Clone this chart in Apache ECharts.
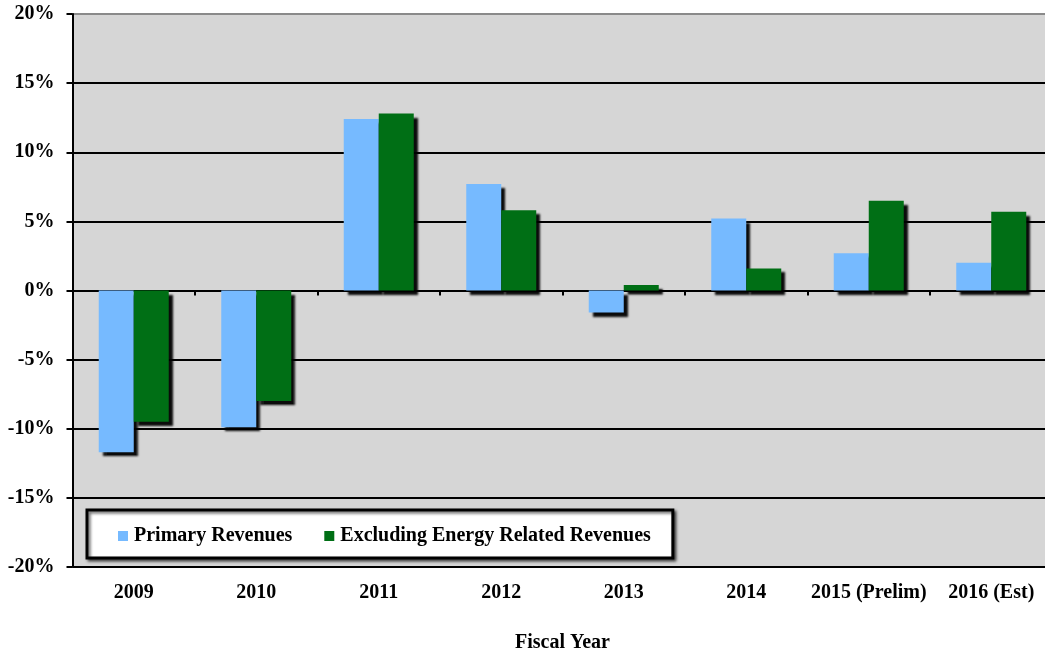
<!DOCTYPE html>
<html>
<head>
<meta charset="utf-8">
<script src="https://cdn.jsdelivr.net/npm/echarts@6/dist/echarts.min.js"></script>
<style>
  html, body { margin: 0; padding: 0; background: #fff; }
  #chart { width: 1045px; height: 653px; }
</style>
</head>
<body>
<div id="chart"></div>
<script>
// fiscal years
var years = ["2009", "2010", "2011", "2012", "2013", "2014", "2015 (Prelim)", "2016 (Est)"];
// growth in percent
var primaryRevenues = [-11.7, -9.9, 12.4, 7.7, -1.6, 5.2, 2.7, 2.0];
var excludingEnergy = [-9.5, -8.0, 12.8, 5.8, 0.4, 1.6, 6.5, 5.7];
var yTicks = { min: -20, max: 20, interval: 5 };

var font = "Liberation Serif";
var chart = echarts.init(document.getElementById("chart"));

var barShadow = {
    shadowColor: "rgba(0,0,0,0.95)",
    shadowBlur: 2,
    shadowOffsetX: 4,
    shadowOffsetY: 4
};

var boldText = {
    fontFamily: font,
    fontWeight: "bold",
    fontSize: 20,
    color: "#000"
};

chart.setOption({
    animation: false,
    textStyle: { fontFamily: font },
    grid: {
        left: 72.5,
        top: 14,
        width: 980,
        height: 553,
        outerBoundsMode: "none",
        containLabel: false,
        show: true,
        backgroundColor: "#d6d6d6",
        borderWidth: 0
    },
    legend: {
        left: 87,
        top: 510,
        orient: "horizontal",
        data: ["Primary Revenues", "Excluding Energy Related Revenues"],
        icon: "rect",
        itemWidth: 10,
        itemHeight: 10,
        itemGap: 32,
        padding: [16, 22, 12, 31],
        backgroundColor: "#fff",
        borderColor: "#000",
        borderWidth: 3,
        shadowColor: "rgba(0,0,0,0.6)",
        shadowBlur: 3,
        shadowOffsetX: 2,
        shadowOffsetY: 2,
        textStyle: Object.assign({ padding: [0, 0, 0, 1] }, boldText)
    },
    xAxis: [
        {
            type: "category",
            data: years,
            position: "bottom",
            axisLine: { show: false, onZero: false },
            axisTick: { show: false },
            axisLabel: Object.assign({ margin: 16, interval: 0 }, boldText),
            name: "Fiscal Year",
            nameLocation: "middle",
            nameGap: 66,
            nameTextStyle: boldText
        },
        {
            type: "category",
            data: years,
            position: "bottom",
            axisLine: { show: true, onZero: true, lineStyle: { color: "#000", width: 2 } },
            axisTick: { show: true, interval: 0, length: 5, lineStyle: { color: "#000", width: 2 } },
            axisLabel: { show: false }
        }
    ],
    yAxis: {
        type: "value",
        min: yTicks.min,
        max: yTicks.max,
        interval: yTicks.interval,
        axisLine: { show: true, onZero: false, lineStyle: { color: "#000", width: 2 } },
        axisTick: { show: true, length: 6, lineStyle: { color: "#000", width: 2 } },
        axisLabel: Object.assign({ formatter: "{value}%", margin: 18 }, boldText),
        splitLine: {
            show: true,
            lineStyle: {
                color: ["#000", "#000", "#000", "#000", "#000", "#000", "#000", "#000", "#8a8a8a"],
                width: 2
            }
        }
    },
    series: [
        {
            name: "Primary Revenues",
            type: "bar",
            data: primaryRevenues,
            barWidth: 35,
            barGap: "0%",
            itemStyle: Object.assign({ color: "#76baff" }, barShadow)
        },
        {
            name: "Excluding Energy Related Revenues",
            type: "bar",
            data: excludingEnergy,
            barWidth: 35,
            barGap: "0%",
            itemStyle: Object.assign({ color: "#006f15" }, barShadow)
        }
    ]
});
</script>
</body>
</html>
